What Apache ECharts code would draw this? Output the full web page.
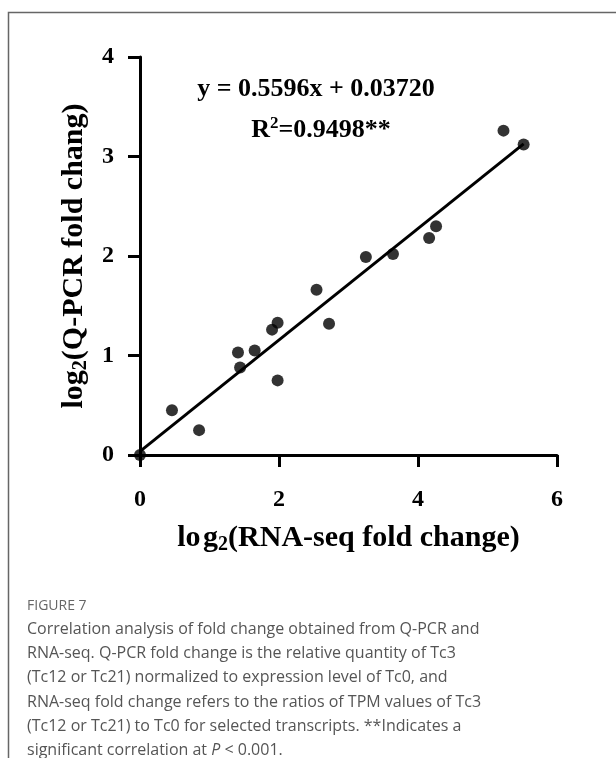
<!DOCTYPE html>
<html>
<head>
<meta charset="utf-8">
<script src="https://cdn.jsdelivr.net/npm/echarts@6/dist/echarts.min.js"></script>
<style>
  html, body { margin: 0; padding: 0; background: #fff; }
  #main { width: 616px; height: 758px; }
</style>
</head>
<body>
<div id="main"></div>
<script>
// log2 fold changes
const rnaSeq = [0, 0.46, 0.85, 1.41, 1.44, 1.65, 1.90, 1.98, 1.98, 2.54, 2.72, 3.25, 3.64, 4.16, 4.26, 5.23, 5.52]
const qpcr   = [0, 0.45, 0.25, 1.03, 0.88, 1.05, 1.26, 1.33, 0.75, 1.66, 1.32, 1.99, 2.02, 2.18, 2.30, 3.26, 3.12]

const slope = 0.5596
const intercept = 0.03720
const fitX = [0, 5.52]

const xTicks = ['0', '2', '4', '6']
const yTicks = ['0', '1', '2', '3', '4']

const captionLines = [
  'Correlation analysis of fold change obtained from Q-PCR and',
  'RNA-seq. Q-PCR fold change is the relative quantity of Tc3',
  '(Tc12 or Tc21) normalized to expression level of Tc0, and',
  'RNA-seq fold change refers to the ratios of TPM values of Tc3',
  '(Tc12 or Tc21) to Tc0 for selected transcripts. **Indicates a',
  'significant correlation at {it|P} < 0.001.'
]

const points = rnaSeq.map((x, i) => [x, qpcr[i]])
const fitLine = fitX.map(x => [x, slope * x + intercept])

const serif = 'Liberation Serif'
const titleRich = {
  b: { fontFamily: serif, fontWeight: 'bold', fontSize: 30, color: '#000', lineHeight: 34 },
  s: { fontFamily: serif, fontWeight: 'bold', fontSize: 20, color: '#000', lineHeight: 20, verticalAlign: 'bottom' }
}

let mychart = echarts.init(document.getElementById('main'))
let option = {
  animation: false,
  grid: { left: 140, right: 59, top: 57, bottom: 303 },
  xAxis: {
    type: 'value', min: 0, max: 6, interval: 2,
    splitLine: { show: false },
    axisLine: { show: true, lineStyle: { color: '#000', width: 3 } },
    axisTick: { show: true, length: 12, lineStyle: { color: '#000', width: 3 } },
    axisLabel: {
      margin: 33, fontFamily: serif, fontWeight: 'bold', fontSize: 24, color: '#000',
      formatter: v => xTicks[v / 2]
    },
    name: '{b|lo\u200ag}{s|2}{b|(RNA-seq fold change)}',
    nameLocation: 'middle', nameGap: 66,
    nameTextStyle: { rich: titleRich }
  },
  yAxis: {
    type: 'value', min: 0, max: 4, interval: 1,
    splitLine: { show: false },
    axisLine: { show: true, lineStyle: { color: '#000', width: 3 } },
    axisTick: { show: true, length: 12, lineStyle: { color: '#000', width: 3 } },
    axisLabel: {
      margin: 26, fontFamily: serif, fontWeight: 'bold', fontSize: 24, color: '#000',
      formatter: v => yTicks[v]
    },
    name: '{b|log}{s|2}{b|(Q-PCR fold chang)}',
    nameLocation: 'middle', nameGap: 47, nameRotate: 90,
    nameTextStyle: { rich: titleRich }
  },
  title: [
    {
      text: 'y = 0.5596x + 0.03720',
      left: 311, top: 71, textAlign: 'center',
      textStyle: { fontFamily: serif, fontWeight: 'bold', fontSize: 26, color: '#000' }
    },
    {
      text: '{b|R}{p|2}{b|=0.9498**}',
      left: 316, top: 110, textAlign: 'center',
      textStyle: {
        rich: {
          b: { fontFamily: serif, fontWeight: 'bold', fontSize: 26, color: '#000', lineHeight: 30 },
          p: { fontFamily: serif, fontWeight: 'bold', fontSize: 17, color: '#000', lineHeight: 17, verticalAlign: 'top' }
        }
      }
    },
    {
      text: 'FIGURE 7',
      left: 22, top: 594,
      textStyle: { fontFamily: 'Open Sans', fontWeight: 'normal', fontSize: 14, color: '#666' }
    },
    {
      text: captionLines.join('\n'),
      left: 22, top: 612,
      textStyle: {
        fontFamily: 'Open Sans', fontWeight: 'normal', fontSize: 16, color: '#555', lineHeight: 24.3,
        rich: { it: { fontFamily: 'Open Sans', fontWeight: 'normal', fontStyle: 'italic', fontSize: 16, color: '#555', lineHeight: 24.3 } }
      }
    }
  ],
  graphic: [
    {
      type: 'polyline',
      shape: { points: [[8.5, 758], [8.5, 12.5], [616, 12.5]] },
      style: { stroke: '#666', lineWidth: 1.5, fill: null }
    }
  ],
  series: [
    {
      type: 'line',
      data: fitLine,
      symbol: 'none',
      lineStyle: { color: '#000', width: 3 },
      z: 2
    },
    {
      type: 'scatter',
      data: points,
      symbolSize: 12,
      itemStyle: { color: '#000' },
      z: 3
    }
  ]
}
mychart.setOption(option)
</script>
</body>
</html>
